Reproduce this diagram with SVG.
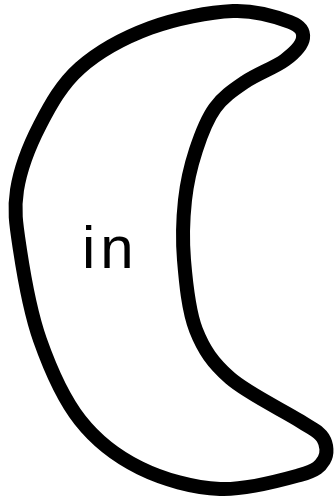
<svg xmlns="http://www.w3.org/2000/svg" width="335" height="501" viewBox="0 0 335 501">
<style>
.moon{fill:#fff;stroke:#000;stroke-width:14;stroke-linejoin:round}
.lbl{font-family:"Liberation Sans",Arial,sans-serif;font-size:60px;fill:#000;letter-spacing:5px}
</style>
<rect width="335" height="501" fill="#fff"/>
<g id="moon">
<path class="moon" d="M233,11 C256.3,10 278.3,17.5 290,22 C301.7,26.5 303.8,31.7 303,38 C302.2,44.3 294.7,52.7 285,60 C275.3,67.3 256.7,74 245,82 C233.3,90 223.2,96.7 215,108 C206.8,119.3 201,134.7 196,150 C191,165.3 187,181.7 185,200 C183,218.3 182.2,238.3 184,260 C185.8,281.7 188.3,310.3 196,330 C203.7,349.7 212.7,362.8 230,378 C247.3,393.2 284.5,411 300,421 C315.5,431 319,431.5 323,438 C327,444.5 327.8,453.8 324,460 C320.2,466.2 317.3,470.2 300,475 C282.7,479.8 246.7,490.2 220,489 C193.3,487.8 163.3,479.5 140,468 C116.7,456.5 96.7,441.3 80,420 C63.3,398.7 50,368.3 40,340 C30,311.7 23.8,275 20,250 C16.2,225 13.7,210.8 17,190 C20.3,169.2 29.5,145.3 40,125 C50.5,104.7 61.7,84.2 80,68 C98.3,51.8 124.5,37.5 150,28 C175.5,18.5 209.7,12 233,11 Z"/>
<text class="lbl" x="82" y="268">in</text>
</g>
</svg>
